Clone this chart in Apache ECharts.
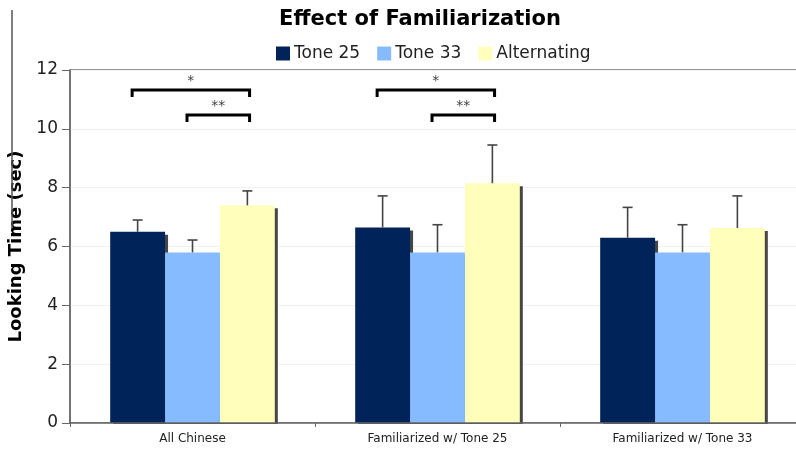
<!DOCTYPE html>
<html>
<head>
<meta charset="utf-8">
<script src="https://cdn.jsdelivr.net/npm/echarts@6/dist/echarts.min.js"></script>
<style>html,body{margin:0;padding:0;background:#fff}#c{width:796px;height:450px}</style>
</head>
<body>
<div id="c"></div>
<script>
const categories = ['All Chinese', 'Familiarized w/ Tone 25', 'Familiarized w/ Tone 33'];
const seriesNames = ['Tone 25', 'Tone 33', 'Alternating'];
const tone25 = [6.50, 6.65, 6.30];
const tone33 = [5.80, 5.80, 5.80];
const alternating = [7.40, 8.15, 6.63];
const tone25Err = [6.90, 7.72, 7.33];
const tone33Err = [6.22, 6.74, 6.74];
const alternatingErr = [7.89, 9.45, 7.72];
const yTicks = [0, 2, 4, 6, 8, 10, 12];
// [category index, from series, to series, bracket level, label]
const sigBrackets = [
  [0, 0, 2, 11.32, '*'],
  [0, 1, 2, 10.47, '**'],
  [1, 0, 2, 11.32, '*'],
  [1, 1, 2, 10.47, '**']
];

const colors = ['#00245A', '#86BCFF', '#FFFFBB'];
const values = [tone25, tone33, alternating];
const errs = [tone25Err, tone33Err, alternatingErr];
const BAR_FRAC = 0.224;
const FONT = 'DejaVu Sans, Verdana, sans-serif';

const chart = echarts.init(document.getElementById('c'), null, {renderer: 'canvas'});

const barSeries = seriesNames.map((name, i) => ({
  name: name,
  type: 'bar',
  data: values[i],
  barWidth: (BAR_FRAC * 100) + '%',
  barGap: '0%',
  itemStyle: {
    color: colors[i],
    shadowColor: 'rgba(70,70,70,1)',
    shadowBlur: 0,
    shadowOffsetX: 3,
    shadowOffsetY: 3
  },
  emphasis: {disabled: true},
  z: 2
}));

const errData = [];
seriesNames.forEach((n, s) => {
  categories.forEach((c, k) => {
    errData.push([k, values[s][k], errs[s][k], s]);
  });
});

const errSeries = {
  type: 'custom',
  data: errData,
  z: 5,
  silent: true,
  renderItem: function (params, api) {
    const k = api.value(0);
    const s = api.value(3);
    const bandW = api.size([1, 0])[0];
    const bw = bandW * BAR_FRAC;
    const p0 = api.coord([k, api.value(1)]);
    const p1 = api.coord([k, api.value(2)]);
    const x = p0[0] + (s - 1) * bw;
    const cap = 5;
    const st = {stroke: '#444', lineWidth: 1.6};
    return {
      type: 'group',
      children: [
        {type: 'line', shape: {x1: x, y1: p0[1], x2: x, y2: p1[1]}, style: st},
        {type: 'line', shape: {x1: x - cap, y1: p1[1], x2: x + cap, y2: p1[1]}, style: st}
      ]
    };
  }
};

const sigSeries = {
  type: 'custom',
  data: sigBrackets.map(b => [b[0], b[3], b[1], b[2]]),
  z: 6,
  silent: true,
  renderItem: function (params, api) {
    const k = api.value(0);
    const lvl = api.value(1);
    const from = api.value(2);
    const to = api.value(3);
    const label = sigBrackets[params.dataIndex][4];
    const bandW = api.size([1, 0])[0];
    const bw = bandW * BAR_FRAC;
    const p = api.coord([k, lvl]);
    const xl = p[0] + (from - 1) * bw - 0.1 * bw;
    const xr = p[0] + (to - 1) * bw + 0.04 * bw;
    const y = p[1];
    const drop = 7;
    return {
      type: 'group',
      children: [
        {type: 'polyline', shape: {points: [[xl, y + drop], [xl, y], [xr, y], [xr, y + drop]]},
         style: {stroke: '#000', lineWidth: 3, fill: null, lineJoin: 'miter'}},
        {type: 'text', x: (xl + xr) / 2, y: y - 2,
         style: {text: label, fill: '#444', font: '14px ' + FONT, align: 'center', verticalAlign: 'bottom'}}
      ]
    };
  }
};

chart.setOption({
  animation: false,
  title: {
    text: 'Effect of Familiarization',
    left: 415,
    textAlign: 'center',
    top: 4,
    textStyle: {fontFamily: FONT, fontWeight: 'bold', fontSize: 21, color: '#000'}
  },
  legend: {
    data: seriesNames,
    left: 271,
    top: 40,
    icon: 'rect',
    itemWidth: 14,
    itemHeight: 14,
    itemGap: 17,
    selectedMode: false,
    textStyle: {fontFamily: FONT, fontSize: 17, color: '#222', padding: [0, 0, 0, -1]}
  },
  grid: {
    left: 70, top: 70, height: 353, width: 735,
    outerBoundsMode: 'none',
    containLabel: false,
    show: true, borderColor: '#777', borderWidth: 1.5, backgroundColor: 'transparent'
  },
  xAxis: {
    type: 'category',
    data: categories,
    z: 10,
    axisLine: {lineStyle: {color: '#666', width: 1.5}},
    axisTick: {show: true, length: 4, lineStyle: {color: '#666'}},
    axisLabel: {fontFamily: FONT, fontSize: 12, color: '#222', margin: 10}
  },
  yAxis: {
    type: 'value',
    min: yTicks[0],
    max: yTicks[yTicks.length - 1],
    interval: 2,
    name: 'Looking Time (sec)',
    nameLocation: 'middle',
    nameGap: 43,
    nameTextStyle: {fontFamily: FONT, fontWeight: 'bold', fontSize: 18, color: '#000'},
    axisLine: {show: true, lineStyle: {color: '#666', width: 1.5}},
    axisTick: {show: true, length: 8, lineStyle: {color: '#666'}},
    axisLabel: {fontFamily: FONT, fontSize: 17, color: '#222', margin: 12},
    splitLine: {lineStyle: {color: '#f0f0f0'}}
  },
  graphic: [{
    type: 'rect',
    shape: {x: 70, y: 424, width: 740, height: 4},
    style: {fill: '#fff'},
    z: 4
  }, {
    type: 'line',
    shape: {x1: 12, y1: 10, x2: 12, y2: 228},
    style: {stroke: '#555', lineWidth: 1.5},
    z: 100
  }],
  series: barSeries.concat([errSeries, sigSeries])
});
</script>
</body>
</html>
